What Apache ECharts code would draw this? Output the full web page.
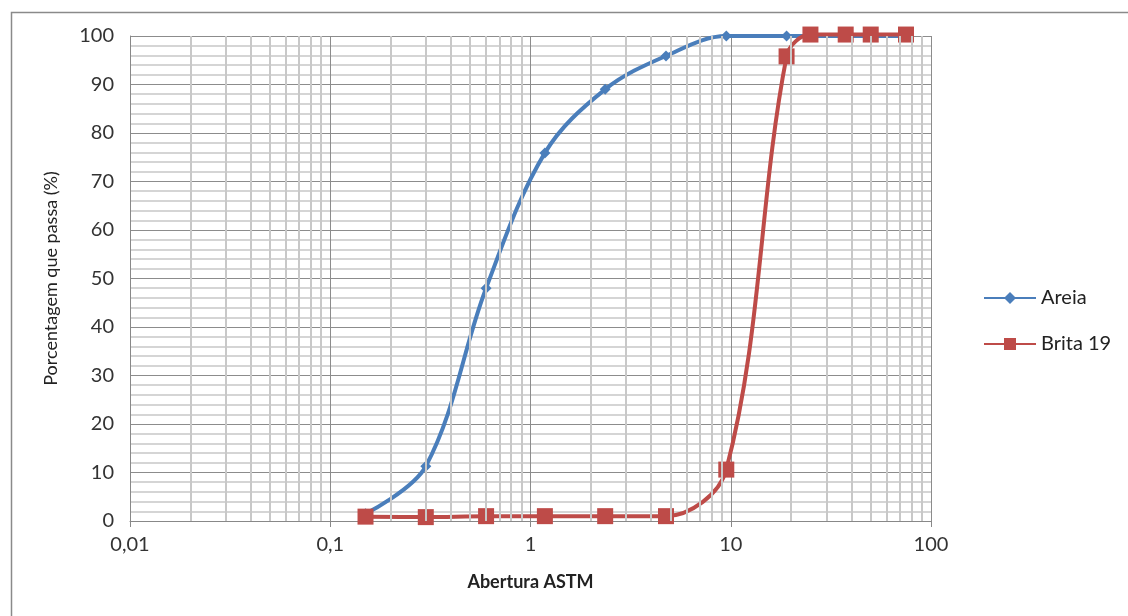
<!DOCTYPE html>
<html>
<head>
<meta charset="utf-8">
<script src="https://cdn.jsdelivr.net/npm/echarts@6/dist/echarts.min.js"></script>
<style>
html,body{margin:0;padding:0;background:#fff;}
#chart{width:1128px;height:616px;}
</style>
</head>
<body>
<div id="chart"></div>
<script>
// ---- data ----
const areiaSieves = [0.15, 0.3, 0.6, 1.18, 2.36, 4.75, 9.5, 19, 25, 37.5, 50, 75];
const areiaPass   = [1.5, 11.3, 48, 75.9, 89, 95.9, 100, 100, 100, 100, 100, 100];
const britaSieves = [0.15, 0.3, 0.6, 1.18, 2.36, 4.75, 9.5, 19, 25, 37.5, 50, 75];
const britaPass   = [0.9, 0.8, 1.0, 1.0, 1.0, 1.0, 10.6, 95.8, 100.3, 100.3, 100.3, 100.3];
const xTickLabels = ['0,01', '0,1', '1', '10', '100'];
const xMinorGrid  = [0.02,0.03,0.04,0.05,0.06,0.07,0.08,0.09,
                     0.2,0.3,0.4,0.5,0.6,0.7,0.8,0.9,
                     2,3,4,5,6,7,8,9,
                     20,30,40,50,60,70,80,90];
const seriesNames = ['Areia', 'Brita 19'];
const xTitle = 'Abertura ASTM';
const yTitle = 'Porcentagem que passa (%)';

const FONT = 'Lato';
const chart = echarts.init(document.getElementById('chart'));
const pair = (xs, ys) => xs.map((x, i) => [x, ys[i]]);

chart.setOption({
  animation: false,
  textStyle: { fontFamily: FONT },
  graphic: [{
    type: 'rect', left: 9, top: 10, silent: true,
    shape: { width: 1300, height: 800 },
    style: { fill: 'none', stroke: '#8a8a8a', lineWidth: 1.5 }
  }],
  grid: { left: 130, right: 197, top: 36, bottom: 95 },
  legend: {
    orient: 'vertical', left: 978, top: 283,
    itemWidth: 52, itemHeight: 15, itemGap: 26,
    textStyle: { fontFamily: FONT, fontSize: 20, color: '#222' },
    data: seriesNames
  },
  xAxis: {
    type: 'log', logBase: 10, min: 0.01, max: 100,
    name: xTitle, nameLocation: 'middle', nameGap: 52,
    nameTextStyle: { fontFamily: FONT, fontSize: 18, fontWeight: 'bold', color: '#222' },
    axisLine: { show: true, lineStyle: { color: '#888', width: 1 } },
    axisTick: { show: true, length: 6, lineStyle: { color: '#888' } },
    axisLabel: {
      fontFamily: FONT, fontSize: 20, color: '#333', margin: 14,
      formatter: v => xTickLabels[Math.round(Math.log10(v)) + 2]
    },
    splitLine: { show: true, lineStyle: { color: '#8c8c8c', width: 1 } },
    minorTick: { show: false }, minorSplitLine: { show: false }
  },
  yAxis: {
    type: 'value', min: 0, max: 100, interval: 10,
    name: yTitle, nameLocation: 'middle', nameGap: 70, nameRotate: 90,
    nameTextStyle: { fontFamily: FONT, fontSize: 18, color: '#222' },
    axisLine: { show: true, lineStyle: { color: '#888', width: 1 } },
    axisTick: { show: false },
    axisLabel: { fontFamily: FONT, fontSize: 20, color: '#333', margin: 16 },
    splitLine: { show: true, lineStyle: { color: '#8c8c8c', width: 1 } },
    minorTick: { show: false, splitNumber: 5 },
    minorSplitLine: { show: true, lineStyle: { color: '#c8c8c8', width: 1.5 } }
  },
  series: [
    {
      type: 'line', name: '_grid', data: [], silent: true, z: 1,
      markLine: {
        silent: true, symbol: 'none', animation: false,
        label: { show: false },
        lineStyle: { color: '#c8c8c8', width: 2, type: 'solid' },
        data: xMinorGrid.map(v => ({ xAxis: v }))
      }
    },
    {
      type: 'line', name: seriesNames[0], z: 3,
      data: pair(areiaSieves, areiaPass),
      smooth: 0.35, clip: false,
      symbol: 'diamond', symbolSize: 11, showAllSymbol: true,
      lineStyle: { color: '#4a7ebb', width: 4 },
      itemStyle: { color: '#4a7ebb' }
    },
    {
      type: 'line', name: seriesNames[1], z: 4,
      data: pair(britaSieves, britaPass),
      smooth: 0.35, clip: false,
      symbol: 'rect', symbolSize: 16, showAllSymbol: true,
      lineStyle: { color: '#be4b48', width: 4 },
      itemStyle: { color: '#be4b48' }
    }
  ]
});
</script>
</body>
</html>
